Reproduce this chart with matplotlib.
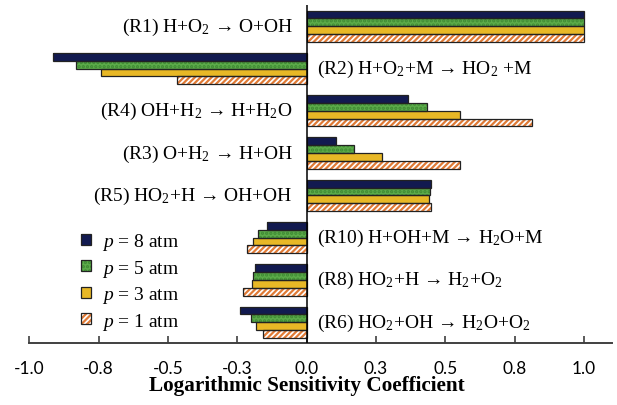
import numpy as np
import matplotlib
matplotlib.use("Agg")
import matplotlib.pyplot as plt
from matplotlib.patches import Patch
from matplotlib.legend_handler import HandlerTuple

plt.rcParams['mathtext.fontset'] = 'custom'
plt.rcParams['mathtext.rm'] = 'Liberation Serif'
plt.rcParams['mathtext.it'] = 'Liberation Serif:italic'
plt.rcParams['hatch.linewidth'] = 1.6

# reactions, top to bottom
reactions = [
    r"(R1) H+O$_2$ → O+OH",
    r"(R2) H+O$_2$+M → HO$_2$ +M",
    r"(R4) OH+H$_2$ → H+H$_2$O",
    r"(R3) O+H$_2$ → H+OH",
    r"(R5) HO$_2$+H → OH+OH",
    r"(R10) H+OH+M → H$_2$O+M",
    r"(R8) HO$_2$+H → H$_2$+O$_2$",
    r"(R6) HO$_2$+OH → H$_2$O+O$_2$",
]

# logarithmic sensitivity coefficients per pressure
p8 = [1.0, -0.915, 0.366, 0.104, 0.448, -0.144, -0.186, -0.240]
p5 = [1.0, -0.831, 0.435, 0.172, 0.444, -0.174, -0.192, -0.202]
p3 = [1.0, -0.741, 0.553, 0.270, 0.441, -0.192, -0.198, -0.183]
p1 = [1.0, -0.468, 0.811, 0.552, 0.450, -0.214, -0.228, -0.156]

series_labels = [r"$p$ = 8 atm", r"$p$ = 5 atm", r"$p$ = 3 atm", r"$p$ = 1 atm"]

xticks = [-1.0, -0.75, -0.5, -0.25, 0.0, 0.25, 0.5, 0.75, 1.0]
xticklabels = ["-1.0", "-0.8", "-0.5", "-0.3", "0.0", "0.3", "0.5", "0.8", "1.0"]

# (face, hatch, hatch colour)
styles = [
    ("#121a50", None, None),
    ("#5cab4a", "....", "#3f8a33"),
    ("#e8b826", None, None),
    ("white", "//////", "#e07a35"),
]

fig = plt.figure(figsize=(6.17, 4.06), dpi=100)
ax = fig.add_axes([0.0475, 0.152, 0.944, 0.833])

y = np.arange(len(reactions))
h = 0.185
handles = []
for k, (vals, (fc, hatch, hc)) in enumerate(zip([p8, p5, p3, p1], styles)):
    pos = y + (k - 1.5) * h
    if hatch:
        ax.barh(pos, vals, height=h, color=fc, hatch=hatch, edgecolor=hc,
                linewidth=0, zorder=2)
    else:
        ax.barh(pos, vals, height=h, color=fc, linewidth=0, zorder=2)
    ax.barh(pos, vals, height=h, fill=False, edgecolor="#222222",
            linewidth=0.9, zorder=3)
    fill = Patch(facecolor=fc, hatch=hatch, edgecolor=hc if hc else fc, linewidth=0)
    edge = Patch(fill=False, edgecolor="#222222", linewidth=0.9)
    handles.append((fill, edge))

serif = ["Liberation Serif", "DejaVu Serif"]
for i, (name, v) in enumerate(zip(reactions, p8)):
    if v > 0:
        ax.text(-0.05, i, name, ha="right", va="center", fontsize=14, family=serif)
    else:
        ax.text(0.036, i, name, ha="left", va="center", fontsize=14, family=serif)

ax.axvline(0, color="black", lw=1.1, zorder=4)
ax.set_xlim(-1.0, 1.1)
ax.set_ylim(len(reactions) - 0.5, -0.5)
ax.set_yticks([])
ax.set_xticks(xticks)
ax.set_xticklabels(xticklabels, family="Lato", fontsize=12.5)
ax.tick_params(axis="x", direction="in", length=5, width=1.2, color="#404040", pad=12)
for s in ["left", "right", "top"]:
    ax.spines[s].set_visible(False)
ax.spines["bottom"].set_linewidth(1.4)
ax.spines["bottom"].set_color("#404040")

leg = ax.legend(handles, series_labels, handler_map={tuple: HandlerTuple(ndivide=1, pad=0)},
                loc="upper left", bbox_to_anchor=(0.131, 0.428), bbox_transform=fig.transFigure,
                frameon=False, borderpad=0, borderaxespad=0, handlelength=0.52,
                handleheight=0.52, handletextpad=0.55, labelspacing=0.28,
                prop={"family": "Liberation Serif", "size": 14})

fig.text(0.4976, 0.05, "Logarithmic Sensitivity Coefficient", ha="center", va="center",
         fontsize=15.3, fontweight="bold", family="Liberation Serif")

fig.savefig("out.png", dpi=100)
